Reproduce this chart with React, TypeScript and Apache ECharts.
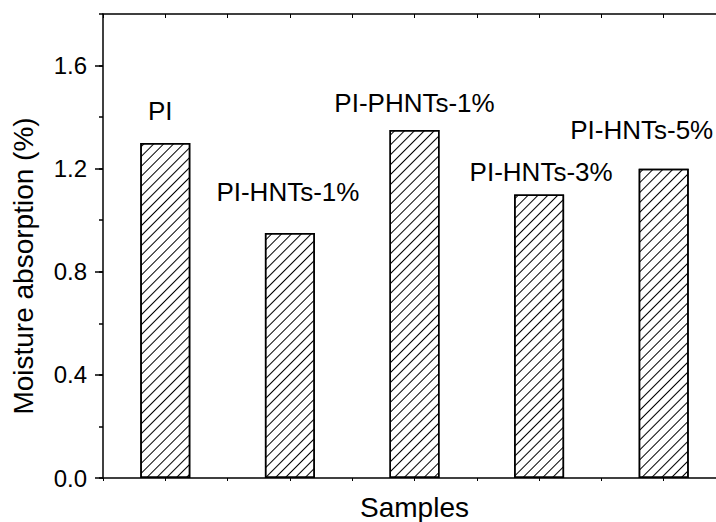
import React, { useEffect, useRef } from "react";
import * as echarts from "echarts";

const categories = ["PI", "PI-HNTs-1%", "PI-PHNTs-1%", "PI-HNTs-3%", "PI-HNTs-5%"];
const moistureAbsorption = [1.30, 0.95, 1.35, 1.10, 1.20];
const yTicks = [0, 0.4, 0.8, 1.2, 1.6];

// label placement tweaks (pixels) relative to each bar top
const labelOffsets: [number, number][] = [
  [-5, -19],
  [-2, -28],
  [0, -14],
  [2, -9],
  [-22, -26],
];

const FONT = 'Arial, "Liberation Sans", Helvetica, sans-serif';

export default function App() {
  const ref = useRef<HTMLDivElement>(null);
  useEffect(() => {
    if (!ref.current) return;
    const chart = echarts.init(ref.current, undefined, { renderer: "svg" });
    const hatch = {
      symbol: "rect",
      symbolSize: 1,
      color: "#000",
      backgroundColor: "#fff",
      dashArrayX: [1, 0],
      dashArrayY: [1, 6],
      rotation: -Math.PI / 4,
    };
    chart.setOption({
      animation: false,
      backgroundColor: "#fff",
      grid: {
        left: 103,
        right: -10,
        top: 14,
        bottom: 44,
        containLabel: false,
        outerBoundsMode: "none",
      },
      xAxis: [
        {
          type: "category",
          data: categories,
          position: "bottom",
          boundaryGap: true,
          axisLine: { show: true, lineStyle: { color: "#000", width: 1.5 } },
          axisTick: { show: false },
          axisLabel: { show: false },
          splitLine: { show: false },
          name: "Samples",
          nameLocation: "middle",
          nameGap: 15,
          nameTextStyle: { fontFamily: FONT, fontSize: 28, color: "#000", verticalAlign: "top" },
        },
        {
          type: "value",
          position: "bottom",
          min: 0,
          max: categories.length * 2,
          interval: 1,
          axisLine: { show: false },
          axisTick: { show: true, length: 3, lineStyle: { color: "#000", width: 1 } },
          axisLabel: { show: false },
          splitLine: { show: false },
        },
        {
          type: "value",
          position: "top",
          min: 0,
          max: categories.length * 2,
          interval: 1,
          axisLine: { show: true, lineStyle: { color: "#000", width: 1.5 } },
          axisTick: { show: true, inside: true, length: 4, lineStyle: { color: "#000", width: 1 } },
          axisLabel: { show: false },
          splitLine: { show: false },
        },
      ],
      yAxis: [
        {
          type: "value",
          min: 0,
          max: 1.8,
          interval: 0.4,
          position: "left",
          axisLine: { show: true, lineStyle: { color: "#000", width: 1.5 } },
          axisTick: { show: true, length: 8, lineStyle: { color: "#000", width: 1.5 } },
          axisLabel: {
            show: true,
            margin: 16,
            fontFamily: FONT,
            fontSize: 24,
            color: "#000",
            showMaxLabel: false,
            formatter: (v: number) =>
              yTicks.some((t) => Math.abs(t - v) < 1e-6) ? v.toFixed(1) : "",
          },
          splitLine: { show: false },
        },
        {
          type: "value",
          min: 0,
          max: 1.8,
          interval: 0.2,
          position: "left",
          axisLine: { show: false },
          axisTick: { show: true, length: 4, lineStyle: { color: "#000", width: 1.5 } },
          axisLabel: { show: false },
          splitLine: { show: false },
        },
      ],
      graphic: [
        {
          type: "text",
          x: 23,
          y: 266,
          rotation: Math.PI / 2,
          style: {
            text: "Moisture absorption (%)",
            fontFamily: FONT,
            fontSize: 28,
            fill: "#000",
            align: "center",
            verticalAlign: "middle",
          },
        },
      ],
      series: [
        {
          type: "bar",
          xAxisIndex: 0,
          yAxisIndex: 0,
          barWidth: 50,
          data: moistureAbsorption.map((v, i) => ({
            value: v,
            label: {
              show: true,
              position: "top",
              distance: 0,
              offset: labelOffsets[i],
              formatter: categories[i],
              fontFamily: FONT,
              fontSize: 26,
              color: "#000",
            },
          })),
          itemStyle: {
            color: "#fff",
            borderColor: "#000",
            borderWidth: 1.5,
            decal: hatch,
          },
        },
      ],
    });
    return () => chart.dispose();
  }, []);
  return (
    <div
      ref={ref}
      style={{ position: "absolute", left: 0, top: 0, width: 716, height: 522 }}
    />
  );
}
